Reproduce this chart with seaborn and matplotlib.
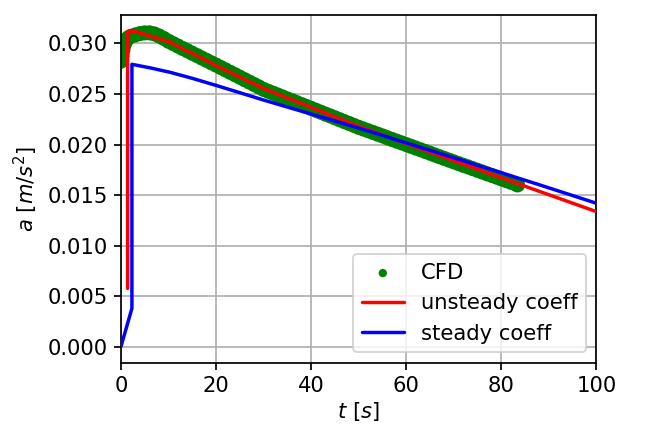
import matplotlib
matplotlib.use("Agg")
import matplotlib.pyplot as plt
import seaborn as sns
import pandas as pd

# CFD acceleration samples
cfd_t = [0.0, 0.2, 0.4, 0.7, 1.0, 1.5, 2, 3, 4, 5, 6, 7, 8, 9, 10,
         11, 12, 13, 14, 15, 16, 17, 18, 19, 20,
         21, 22, 23, 24, 25, 26, 27, 28, 29, 30,
         31, 32, 33, 34, 35, 36, 37, 38, 39, 40,
         41, 42, 43, 44, 45, 46, 47, 48, 49, 50,
         51, 52, 53, 54, 55, 56, 57, 58, 59, 60,
         61, 62, 63, 64, 65, 66, 67, 68, 69, 70,
         71, 72, 73, 74, 75, 76, 77, 78, 79, 80,
         81, 82, 83, 83.4]
cfd_a = [0.02825, 0.02880, 0.02935, 0.02990, 0.03025, 0.03055, 0.03070, 0.03085, 0.03098, 0.03105,
         0.03105, 0.03095, 0.03075, 0.03050, 0.03022,
         0.02998, 0.02974, 0.02950, 0.02927, 0.02903, 0.02880, 0.02856, 0.02833, 0.02809, 0.02786,
         0.02762, 0.02738, 0.02714, 0.02690, 0.02666, 0.02642, 0.02618, 0.02594, 0.02570, 0.02545,
         0.02526, 0.02508, 0.02489, 0.02470, 0.02451, 0.02433, 0.02414, 0.02395, 0.02376, 0.02358,
         0.02339, 0.02320, 0.02301, 0.02283, 0.02264, 0.02245, 0.02226, 0.02208, 0.02189, 0.02170,
         0.02153, 0.02136, 0.02119, 0.02102, 0.02085, 0.02067, 0.02050, 0.02033, 0.02016, 0.01999,
         0.01982, 0.01965, 0.01948, 0.01931, 0.01914, 0.01896, 0.01879, 0.01862, 0.01845, 0.01828,
         0.01811, 0.01794, 0.01778, 0.01761, 0.01744, 0.01727, 0.01710, 0.01694, 0.01677, 0.01660,
         0.01643, 0.01626, 0.01610, 0.01600]

# model with unsteady coefficients
unsteady_t = [1.4, 1.4, 3.2, 10.3, 20.0, 30.0, 50.0, 70.0, 88.0, 100.0]
unsteady_a = [0.00576, 0.03117, 0.03117, 0.03013, 0.02782, 0.02555, 0.02180, 0.01838, 0.01536, 0.01335]

# model with steady coefficients
steady_t = [0.0, 2.3, 2.3, 6.0, 10.3, 15.0, 20.0, 30.0, 50.0, 70.0, 88.0, 100.0]
steady_a = [0.0, 0.00378, 0.02794, 0.02760, 0.02715, 0.02655, 0.02585, 0.02440, 0.02163, 0.01869, 0.01601, 0.01418]

sns.set_style("ticks", {
    "axes.edgecolor": "black",
    "axes.grid": True,
    "grid.color": "#b0b0b0",
    "xtick.color": "black",
    "ytick.color": "black",
    "axes.labelcolor": "black",
    "text.color": "black",
})
plt.rcParams["font.family"] = ["DejaVu Sans"]
plt.rcParams["font.size"] = 11
plt.rcParams["mathtext.fontset"] = "dejavusans"

FS = 11
LW = 1.8

dpi = 138
fig = plt.figure(figsize=(648 / dpi, 425 / dpi), dpi=dpi)
ax = fig.add_axes([0.1867, 0.1466, 0.7338, 0.8181])

cfd = pd.DataFrame({"t": cfd_t, "a": cfd_a})
uns = pd.DataFrame({"t": unsteady_t, "a": unsteady_a})
std = pd.DataFrame({"t": steady_t, "a": steady_a})

sns.scatterplot(data=cfd, x="t", y="a", ax=ax, color="green", s=62,
                linewidth=0, edgecolor="none", label="CFD", zorder=2)
sns.lineplot(data=uns, x="t", y="a", ax=ax, color="red", lw=LW,
             estimator=None, sort=False, label="unsteady coeff", zorder=3)
sns.lineplot(data=std, x="t", y="a", ax=ax, color="blue", lw=LW,
             estimator=None, sort=False, label="steady coeff", zorder=4)

ax.set_xlim(0, 100)
ax.set_ylim(-0.0016, 0.03282)
ax.set_xticks([0, 20, 40, 60, 80, 100])
yt = [0.000, 0.005, 0.010, 0.015, 0.020, 0.025, 0.030]
ax.set_yticks(yt)
ax.set_yticklabels([f"{v:.3f}" for v in yt])
ax.grid(True, color="#b0b0b0", linewidth=0.9)
ax.set_axisbelow(True)
ax.tick_params(direction="out", length=3.5, width=0.9, labelsize=FS, pad=3.5)
for sp in ax.spines.values():
    sp.set_linewidth(0.9)
    sp.set_color("black")

ax.set_xlabel(r"$t\ [s]$", fontsize=FS, labelpad=2)
ax.set_ylabel(r"$a\ [m/s^2]$", fontsize=FS)

leg = ax.legend(loc="lower right", markerscale=0.55, fontsize=FS, frameon=True,
                framealpha=0.8, edgecolor="#cccccc", fancybox=True)

fig.savefig("out.png", dpi=dpi)
